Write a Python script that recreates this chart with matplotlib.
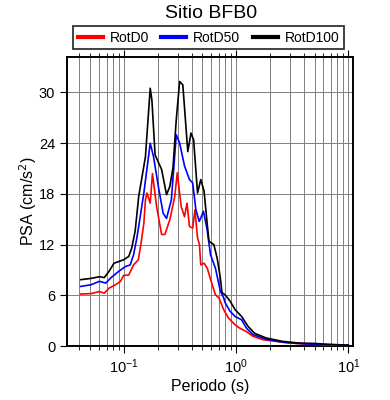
#!/usr/bin/env python3

import numpy as np
import matplotlib.pyplot as plt
from matplotlib.ticker import LogLocator, FixedLocator

plt.rcParams['font.family'] = ['Liberation Sans', 'DejaVu Sans']

## values: period (s) and PSA (cm/s^2)
t_rotd100 = [0.041, 0.0508, 0.0601, 0.0665, 0.0735, 0.0813, 0.0899, 0.099, 0.110,
             0.117, 0.1255, 0.135, 0.155, 0.171, 0.177, 0.189, 0.216, 0.239, 0.256,
             0.273, 0.292, 0.313, 0.334, 0.370, 0.395, 0.417, 0.452, 0.483, 0.517,
             0.552, 0.571, 0.632, 0.676, 0.722, 0.747, 0.798, 0.883, 0.977, 1.117,
             1.279, 1.46, 1.85, 2.58, 3.61, 5.04, 6.56, 10.0]
psa_rotd100 = [7.85, 8.0, 8.2, 8.1, 8.85, 9.8, 10.0, 10.2, 10.6,
               11.6, 13.6, 17.7, 22.4, 30.5, 29.1, 22.6, 20.9, 17.9, 18.9,
               21.1, 26.8, 31.3, 30.9, 23.0, 25.2, 24.4, 18.1, 19.7, 18.3,
               14.35, 12.4, 12.0, 10.4, 8.05, 6.3, 6.05, 5.3, 4.3, 3.5,
               2.3, 1.5, 0.95, 0.55, 0.35, 0.3, 0.2, 0.1]

t_rotd50 = [0.041, 0.0508, 0.0601, 0.0687, 0.0759, 0.0899, 0.1026, 0.1135, 0.1215,
            0.130, 0.135, 0.150, 0.171, 0.183, 0.202, 0.223, 0.239, 0.264, 0.292,
            0.313, 0.346, 0.383, 0.409, 0.437, 0.468, 0.483, 0.51, 0.55, 0.590,
            0.653, 0.722, 0.773, 0.798, 0.883, 0.977, 1.117, 1.236, 1.41, 1.85,
            2.6, 3.6, 5.0, 7.0, 10.0]
psa_rotd50 = [7.05, 7.25, 7.65, 7.45, 8.05, 8.85, 9.4, 9.6, 10.8,
              12.8, 14.15, 18.1, 24.0, 22.4, 18.9, 15.7, 15.1, 17.3, 25.0,
              24.0, 21.3, 19.7, 19.3, 16.1, 14.75, 15.15, 15.95, 13.8, 10.8,
              9.2, 6.5, 5.7, 5.1, 4.1, 3.5, 3.1, 2.1, 1.35, 0.8,
              0.45, 0.3, 0.2, 0.15, 0.1]

t_rotd0 = [0.041, 0.0508, 0.0601, 0.0665, 0.0735, 0.0839, 0.0929, 0.099, 0.110,
           0.1215, 0.134, 0.141, 0.150, 0.155, 0.160, 0.171, 0.179, 0.195, 0.216,
           0.231, 0.256, 0.283, 0.298, 0.323, 0.346, 0.364, 0.383, 0.409, 0.428,
           0.452, 0.470, 0.483, 0.517, 0.552, 0.611, 0.653, 0.700, 0.722, 0.773,
           0.855, 0.977, 1.08, 1.236, 1.41, 1.73, 2.26, 3.0, 4.5, 7.0, 10.0]
psa_rotd0 = [6.15, 6.2, 6.45, 6.25, 6.85, 7.25, 7.65, 8.35, 8.4,
             9.6, 10.2, 12.0, 14.5, 17.3, 18.1, 16.9, 20.4, 16.5, 13.2,
             13.2, 14.95, 17.7, 20.5, 16.5, 15.3, 16.9, 14.15, 13.95, 16.1,
             12.8, 12.0, 9.6, 9.8, 9.2, 7.25, 6.05, 5.7, 5.3, 4.3,
             3.3, 2.5, 2.1, 1.7, 1.15, 0.75, 0.55, 0.35, 0.2, 0.1, 0.05]

labels = ["RotD0", "RotD50", "RotD100"]
colors = ["red", "blue", "black"]
y_ticks = [0, 6, 12, 18, 24, 30]

fig = plt.figure(figsize=(3.9, 4.0), dpi=100)
ax = fig.add_axes([0.172, 0.135, 0.733, 0.7225])

series = [(t_rotd0, psa_rotd0), (t_rotd50, psa_rotd50), (t_rotd100, psa_rotd100)]
for (t, v), lab, c in zip(series, labels, colors):
    ax.plot(t, v, color=c, lw=1.2, label=lab, zorder=3)

ax.set_xscale("log")
ax.set_xlim(0.031, 11)
ax.set_ylim(0, 34.2)

ax.xaxis.set_major_locator(LogLocator(base=10))
ax.xaxis.set_minor_locator(LogLocator(base=10, subs=np.arange(2, 10)))
ax.yaxis.set_major_locator(FixedLocator(y_ticks))
ax.grid(True, which="both", axis="x", color="gray", lw=0.7)
ax.grid(True, which="major", axis="y", color="gray", lw=0.7)
ax.set_axisbelow(True)

ax.tick_params(which="both", direction="out", top=True, right=False,
               labelsize=10.5, color="black")
ax.tick_params(which="major", length=5, width=0.8)
ax.tick_params(which="minor", length=3, width=0.6)
for s in ax.spines.values():
    s.set_linewidth(1.4)

ax.set_xlabel("Periodo (s)", fontsize=11.5, labelpad=2)
ax.set_ylabel("PSA (cm/s$^2$)", fontsize=11.5, labelpad=0)
fig.text(0.54, 0.966, "Sitio BFB0", ha="center", va="center", fontsize=14)

leg = fig.legend(loc="center", bbox_to_anchor=(0.535, 0.906), ncol=3,
                 fontsize=10, frameon=True, fancybox=False, handlelength=1.8,
                 handletextpad=0.5, columnspacing=0.9, borderpad=0.3,
                 borderaxespad=0)
leg.get_frame().set_edgecolor("black")
leg.get_frame().set_linewidth(1.3)
for line in leg.get_lines():
    line.set_linewidth(3)

plt.savefig("out.png", dpi=100)
